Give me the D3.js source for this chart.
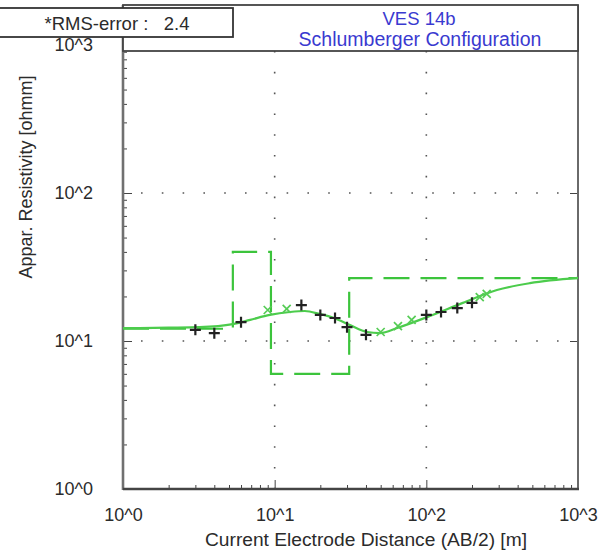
<!DOCTYPE html>
<html>
<head>
<meta charset="utf-8">
<script src="https://cdn.jsdelivr.net/npm/d3@7"></script>
<style>
  body { margin: 0; background: #fff; }
  text { font-family: Arial, "Liberation Sans", sans-serif; }
</style>
</head>
<body>
<div id="chart"></div>
<script>
// tick labels
const decades = [1, 10, 100, 1000];
const decadeLabels = ["10^0", "10^1", "10^2", "10^3"];

// measured apparent resistivity (black +)
const measuredAB = [3, 4, 6, 15, 20, 25, 30, 40, 100, 125, 160, 200];
const measuredRho = [11.9, 11.3, 13.4, 17.5, 15.0, 14.3, 12.4, 11.0, 15.0, 15.7, 16.7, 18.1];

// masked points (green x)
const maskedAB = [9, 12, 50, 65, 80, 225, 250];
const maskedRho = [16.2, 16.5, 11.5, 12.6, 13.9, 19.8, 20.8];

// layered model (dashed)
const layerRho = [12.1, 40, 6, 26.6];
const layerDepth = [5.3, 9.45, 31];

// calculated response curve
const curveAB = [1, 2, 3.2, 5.3, 6.9, 9.3, 12.6, 15.8, 19.9, 24.6, 31.4, 40.6, 49.5, 65, 101, 174, 292, 482, 1000];
const curveRho = [12.2, 12.3, 12.4, 13.0, 13.9, 15.0, 15.7, 15.95, 15.2, 14.3, 12.8, 11.5, 11.3, 12.3, 14.5, 18.1, 22.1, 24.6, 26.7];

const W = 601, H = 555;
const pLeft = 123, pRight = 578, pTop = 45, pBottom = 489;

const svg = d3.select("#chart").append("svg")
  .attr("width", W).attr("height", H);

const x = d3.scaleLog().domain([1, 1000]).range([pLeft, pRight]);
const y = d3.scaleLog().domain([1, 1000]).range([pBottom, pTop]);

// minor tick values 2..9 per decade
const minors = [];
[1, 10, 100].forEach(d => { for (let k = 2; k <= 9; k++) minors.push(d * k); });

// dotted grid
const grid = svg.append("g").attr("stroke", "#555").attr("stroke-width", 1.6)
  .attr("stroke-dasharray", "1.6 19.2");
grid.selectAll("line.h").data([10, 100]).enter().append("line")
  .attr("x1", pLeft + 9).attr("x2", pRight)
  .attr("y1", d => y(d)).attr("y2", d => y(d))
  .attr("stroke-dashoffset", -9);
grid.selectAll("line.v").data([10, 100]).enter().append("line")
  .attr("x1", d => x(d)).attr("x2", d => x(d))
  .attr("y1", 51).attr("y2", pBottom);

// axes
const tickFmt = d => decadeLabels[decades.indexOf(d)];
svg.append("g").attr("transform", `translate(${pLeft},0)`)
  .call(d3.axisLeft(y).tickValues(decades).tickSize(-9).tickPadding(30).tickFormat(tickFmt));
svg.append("g").attr("transform", `translate(${pLeft},0)`)
  .call(d3.axisLeft(y).tickValues(minors).tickSize(-4).tickFormat(""));
svg.append("g").attr("transform", `translate(0,${pBottom})`)
  .call(d3.axisBottom(x).tickValues(decades).tickSize(-9).tickPadding(19).tickFormat(tickFmt));
svg.append("g").attr("transform", `translate(0,${pBottom})`)
  .call(d3.axisBottom(x).tickValues(minors).tickSize(-4).tickFormat(""));
svg.append("g").attr("transform", `translate(${pRight},0)`)
  .call(d3.axisRight(y).tickValues(decades).tickSize(-8).tickFormat(""));

svg.selectAll(".domain").remove();
svg.selectAll(".tick line").attr("stroke", "#444");
svg.selectAll(".tick text").attr("font-size", 18).attr("fill", "#2b2b2b");

// frame
svg.append("line").attr("x1", pLeft).attr("x2", pLeft).attr("y1", 5).attr("y2", pBottom + 1)
  .attr("stroke", "#707070").attr("stroke-width", 2.6);
svg.append("line").attr("x1", pRight).attr("x2", pRight).attr("y1", 5).attr("y2", pBottom + 1)
  .attr("stroke", "#6a6a6a").attr("stroke-width", 2);
svg.append("line").attr("x1", pLeft).attr("x2", pRight + 1).attr("y1", pBottom).attr("y2", pBottom)
  .attr("stroke", "#444").attr("stroke-width", 2.4);

// model step line
const modelPts = [];
let prev = 1;
layerRho.forEach((r, i) => {
  const next = i < layerDepth.length ? layerDepth[i] : 1000;
  modelPts.push([prev, r], [next, r]);
  prev = next;
});
svg.append("path")
  .datum(modelPts)
  .attr("fill", "none").attr("stroke", "#3cc43c").attr("stroke-width", 2.2)
  .attr("stroke-dasharray", "26 11")
  .attr("d", d3.line().x(d => x(d[0])).y(d => y(d[1])));

// response curve
const curve = curveAB.map((a, i) => [a, curveRho[i]]);
svg.append("path")
  .datum(curve)
  .attr("fill", "none").attr("stroke", "#4ccc4c").attr("stroke-width", 2.2)
  .attr("d", d3.line().curve(d3.curveMonotoneX).x(d => x(d[0])).y(d => y(d[1])));

// masked points
const xs = 4;
svg.append("g").selectAll("path").data(maskedAB.map((a, i) => [a, maskedRho[i]]))
  .enter().append("path")
  .attr("fill", "none").attr("stroke", "#55cc55").attr("stroke-width", 1.7)
  .attr("d", d => {
    const cx = x(d[0]), cy = y(d[1]);
    return `M${cx - xs},${cy - xs}L${cx + xs},${cy + xs}M${cx - xs},${cy + xs}L${cx + xs},${cy - xs}`;
  });

// measured points
const ps = 5.5;
svg.append("g").selectAll("path").data(measuredAB.map((a, i) => [a, measuredRho[i]]))
  .enter().append("path")
  .attr("fill", "none").attr("stroke", "#222").attr("stroke-width", 2.2)
  .attr("d", d => {
    const cx = x(d[0]), cy = y(d[1]);
    return `M${cx - ps},${cy}L${cx + ps},${cy}M${cx},${cy - ps}L${cx},${cy + ps}`;
  });

// title box
svg.append("rect").attr("x", pLeft).attr("y", 5).attr("width", pRight - pLeft).attr("height", 46)
  .attr("fill", "#fff").attr("stroke", "#444").attr("stroke-width", 1.8);
svg.append("text").attr("x", 419).attr("y", 25).attr("text-anchor", "middle")
  .attr("font-size", 18.5).attr("fill", "#3a3ad0").text("VES 14b");
svg.append("text").attr("x", 420).attr("y", 46).attr("text-anchor", "middle")
  .attr("font-size", 19.5).attr("fill", "#3a3ad0").text("Schlumberger Configuration");

// rms box
svg.append("rect").attr("x", -2).attr("y", 8).attr("width", 235).attr("height", 29)
  .attr("fill", "#fff").attr("stroke", "#333").attr("stroke-width", 1.8);
svg.append("text").attr("x", 117).attr("y", 30).attr("text-anchor", "middle")
  .attr("font-size", 18.5).attr("fill", "#2b2b2b").attr("xml:space", "preserve")
  .text("*RMS-error :   2.4");

// axis titles
svg.append("text").attr("x", 366).attr("y", 546).attr("text-anchor", "middle")
  .attr("font-size", 19.2).attr("fill", "#2b2b2b")
  .text("Current Electrode Distance (AB/2) [m]");
svg.append("text").attr("transform", "translate(32,177) rotate(-90)")
  .attr("text-anchor", "middle").attr("font-size", 18).attr("fill", "#2b2b2b")
  .text("Appar. Resistivity [ohmm]");
</script>
</body>
</html>
